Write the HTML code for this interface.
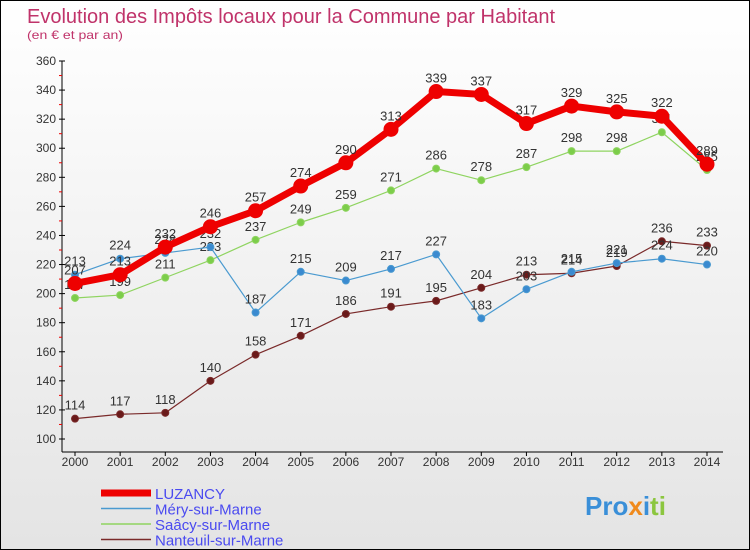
<!DOCTYPE html>
<html><head><meta charset="utf-8"><style>
body{margin:0;}
#wrap{width:748px;height:548px;border:1px solid #000;background:linear-gradient(#fff,#e4e4e4);position:relative;overflow:hidden;font-family:"Liberation Sans",sans-serif;}
</style></head><body>
<div id="wrap">
<svg id="c" width="748" height="548" xmlns="http://www.w3.org/2000/svg">
<text x="26" y="22" font-size="20" fill="#c0336a" textLength="528" lengthAdjust="spacingAndGlyphs">Evolution des Impôts locaux pour la Commune par Habitant</text>
<text x="26" y="38" font-size="12" fill="#c0336a" textLength="96" lengthAdjust="spacingAndGlyphs">(en € et par an)</text>
<g id="axes"></g><g id="series"></g><g id="legend"></g>
<text x="584" y="514" font-size="26" font-weight="bold"><tspan fill="#3a8fd8">Pro</tspan><tspan fill="#f08a1c">x</tspan><tspan fill="#3a8fd8">i</tspan><tspan fill="#8cc63f">ti</tspan></text>
</svg>
</div>
<script>
const years=[2000,2001,2002,2003,2004,2005,2006,2007,2008,2009,2010,2011,2012,2013,2014];
const luzancy=[207,213,232,246,257,274,290,313,339,337,317,329,325,322,289];
const mery=[213,224,228,232,187,215,209,217,227,183,203,215,221,224,220];
const saacy=[197,199,211,223,237,249,259,271,286,278,287,298,298,311,285];
const nanteuil=[114,117,118,140,158,171,186,191,195,204,213,214,219,236,233];
const yTicks=[100,120,140,160,180,200,220,240,260,280,300,320,340,360];
const seriesNames=["LUZANCY","Méry-sur-Marne","Saâcy-sur-Marne","Nanteuil-sur-Marne"];
const NS="http://www.w3.org/2000/svg";
const X=i=>74+i*(632/14);
const Y=v=>438-(v-100)*(378/260);
function mk(t,a,p){const e=document.createElementNS(NS,t);for(const k in a)e.setAttribute(k,a[k]);p.appendChild(e);return e;}
const ax=document.getElementById('axes');
let l=mk('line',{x1:61,y1:Y(360),x2:61,y2:451,stroke:'#000'},ax);

l=mk('line',{x1:61,y1:451,x2:722,y2:451,stroke:'#000'},ax);

yTicks.forEach(v=>{
 mk('line',{x1:58,y1:Y(v),x2:64,y2:Y(v),stroke:'#000'},ax);
 if(v<360)mk('line',{x1:58,y1:Y(v+10),x2:61,y2:Y(v+10),stroke:'#e00'},ax);
 const t=mk('text',{x:55,y:Y(v)+4,'font-size':12,'text-anchor':'end',fill:'#333'},ax);t.textContent=v;
 
});
years.forEach((yr,i)=>{
 mk('line',{x1:X(i),y1:451,x2:X(i),y2:455,stroke:'#000'},ax);
 const t=mk('text',{x:X(i),y:465,'font-size':12,'text-anchor':'middle',fill:'#333'},ax);t.textContent=yr;
 
});
const sg=document.getElementById('series');
function draw(vals,color,w,r,fill,name){
 const g=mk('g',{},sg);
 
 mk('polyline',{points:vals.map((v,i)=>X(i)+','+Y(v)).join(' '),fill:'none',stroke:color,'stroke-width':w,'stroke-linejoin':'round'},g);
 vals.forEach((v,i)=>{
  const c=mk('circle',{cx:X(i),cy:Y(v),r:r,fill:fill,stroke:color,'stroke-width':1},g);
  
  const t=mk('text',{x:X(i),y:Y(v)-9,'font-size':13,'text-anchor':'middle',fill:'#333'},g);t.textContent=v;
 });
}
draw(nanteuil,'#7a2a2a',1.2,3.5,'#6a1a1a','series-nanteuil');
draw(saacy,'#8fd460',1.2,3.5,'#7ccd4a','series-saacy');
draw(mery,'#4a9ad0',1.2,3.5,'#3a8ad0','series-mery');
draw(luzancy,'#ee0000',7,7,'#ee0000','series-luzancy');
const lg=document.getElementById('legend');
const lc=['#ee0000','#4a9ad0','#8fd460','#7a2a2a'],lw=[7,1.5,1.5,1.5];
seriesNames.forEach((n,i)=>{
 const y=492+i*15.5;
 const g=mk('g',{},lg);
 
 mk('line',{x1:100,y1:y,x2:150,y2:y,stroke:lc[i],'stroke-width':lw[i]},g);
 const t=mk('text',{x:154,y:y+6,'font-size':15,fill:'#4a4af0'},g);t.textContent=n;
});
</script>
</body></html>
